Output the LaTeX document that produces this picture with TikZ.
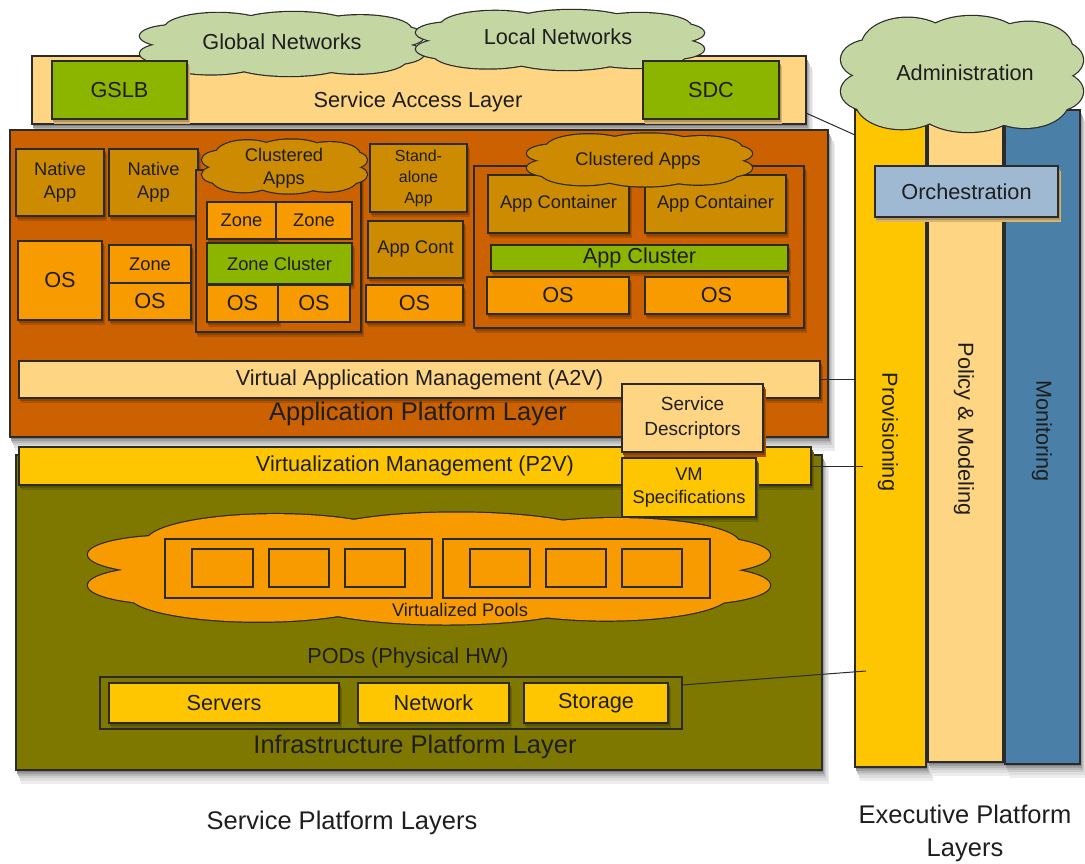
\documentclass[tikz,border=0pt]{standalone}
\usepackage{fontspec}
\setmainfont{Liberation Sans}
\usetikzlibrary{calc}

\definecolor{cloudgreen}{HTML}{C4D7A2}
\definecolor{sand}{HTML}{FDD583}
\definecolor{leaf}{HTML}{8CB500}
\definecolor{rust}{HTML}{CB6100}
\definecolor{ochre}{HTML}{CC8B00}
\definecolor{amber}{HTML}{F89B00}
\definecolor{olivebg}{HTML}{7F7800}
\definecolor{gold}{HTML}{FEC600}
\definecolor{steel}{HTML}{4A80A7}
\definecolor{haze}{HTML}{A0B9D2}
\definecolor{ink}{HTML}{1E1E1E}
\definecolor{edge}{HTML}{2B2B2B}

\newcommand\fbig{\fontsize{21.7}{25}\selectfont}
\newcommand\fmed{\fontsize{18.3}{23}\selectfont}
\newcommand\fsml{\fontsize{16}{21}\selectfont}
\newcommand\fttl{\fontsize{25.5}{33}\selectfont}

% rectangle node from its corners: name, style, x1, y1, x2, y2, text
\newcommand\putbox[7]{%
  \node[#2, minimum width={#5pt-#3pt}, minimum height={#6pt-#4pt}]
    (#1) at ({(#3+#5)/2},{(#4+#6)/2}) {#7};}

% soft grey shadow on white, from stacked shifted copies: x1, y1, x2, y2
\newcommand\softshadow[4]{%
  \foreach \dd/\cc in {14/7,11/13,8/20,6/28,4/38,2/50}
    \fill[black!\cc] ({#1+\dd/3},{#2+\dd}) rectangle ({#3+\dd/2},{#4+\dd});}
% short shadow on a coloured ground: ground colour, x1, y1, x2, y2
\newcommand\lightshadow[5]{%
  \foreach \dd/\cc in {5/85,3/70}
    \fill[#1!\cc!black] ({#2+\dd/3},{#3+\dd}) rectangle ({#4+\dd/2},{#5+\dd});}
% boxes with a shadow underneath
\newcommand\shadebox[7]{\softshadow{#3}{#4}{#5}{#6}\putbox{#1}{#2}{#3}{#4}{#5}{#6}{#7}}
\newcommand\liftbox[8]{\lightshadow{#1}{#4}{#5}{#6}{#7}\putbox{#2}{#3}{#4}{#5}{#6}{#7}{#8}}

% puffy cloud: centre x, centre y, width, height, fill colour
% (outline every puff thickly, then fill them all: only the outer rim stays)
\newcommand\puffs{0/0/0.75/0.6, -0.45/-0.47/0.38/0.5, 0.08/-0.56/0.42/0.44,
  0.55/-0.45/0.36/0.45, -0.5/0.47/0.38/0.48, 0.05/0.56/0.42/0.44,
  0.52/0.47/0.36/0.46, -0.75/-0.25/0.25/0.34, -0.75/0.3/0.25/0.34,
  0.76/-0.24/0.24/0.34, 0.76/0.3/0.24/0.34}
\newcommand\puffcloud[5]{%
  \begin{scope}[shift={(#1,#2)}, xscale=#3/2, yscale=#4/2]
    \foreach \px/\py/\rx/\ry in \puffs
      \draw[edge, line width=2.4pt] (\px,\py) ellipse [x radius=\rx, y radius=\ry];
    \foreach \px/\py/\rx/\ry in \puffs
      \fill[#5] (\px,\py) ellipse [x radius=\rx, y radius=\ry];
  \end{scope}}

\tikzset{
  blk/.style={draw=edge, line width=1.2pt, inner sep=0pt, outer sep=0pt,
              text=ink, align=center},
  lbl/.style={text=ink, inner sep=0pt, align=center},
  wire/.style={draw=edge, line width=1pt},
}

\begin{document}
\begin{tikzpicture}[x=1pt, y=-1pt]
\useasboundingbox (0,0) rectangle (1085,863);

% ---------- executive platform columns ----------
\shadebox{prov}{blk,fill=gold}{855}{110}{926}{767}{}
\shadebox{pol}{blk,fill=sand}{928}{110}{1003}{762}{}
\shadebox{mon}{blk,fill=steel}{1005}{110}{1080}{764}{}
\node[lbl, rotate=-90, font=\fbig] (provtxt) at (888,432) {Provisioning};
\node[lbl, rotate=-90, font=\fbig] (poltxt) at (964,429) {Policy \& Modeling};
\node[lbl, rotate=-90, font=\fbig] (montxt) at (1042,431) {Monitoring};
\liftbox{sand}{orch}{blk,fill=haze,font=\fbig}{875}{166}{1058}{217}{Orchestration}
\puffcloud{962}{74}{242}{116}{cloudgreen}
\node[lbl, font=\fbig] (admin) at (965,73) {Administration};

% ---------- service access layer ----------
\shadebox{sal}{blk,fill=sand}{32}{56}{806}{124}{}
\puffcloud{282}{44}{284}{64}{cloudgreen}
\node[lbl, font=\fbig] (glob) at (282,42) {Global Networks};
\puffcloud{560}{40}{288}{60}{cloudgreen}
\node[lbl, font=\fbig] (loc) at (558,37) {Local Networks};
\liftbox{sand}{gslb}{blk,fill=leaf,font=\fbig}{52}{61}{187}{119}{GSLB}
\liftbox{sand}{sdc}{blk,fill=leaf,font=\fbig}{643}{61}{779}{119}{SDC}
\node[lbl, font=\fbig] (saltxt) at (418,102) {Service Access Layer};

% ---------- application platform layer ----------
\shadebox{apl}{blk,fill=rust}{10}{130}{828}{437}{}
\liftbox{rust}{na1}{blk,fill=ochre,font=\fmed}{16}{149}{104}{216}{Native\\App}
\liftbox{rust}{na2}{blk,fill=ochre,font=\fmed}{109}{149}{198}{216}{Native\\App}
\liftbox{rust}{osa}{blk,fill=amber,font=\fbig}{18}{241}{102}{320}{OS}
\liftbox{rust}{zna}{blk,fill=amber,font=\fmed}{109}{245}{191}{283}{Zone}
\liftbox{rust}{osb}{blk,fill=amber,font=\fbig}{109}{283}{191}{320}{OS}

% zone cluster group
\liftbox{rust}{grpl}{blk,fill=rust}{196}{170}{361}{332}{}
\puffcloud{284.5}{166.5}{165}{54}{ochre}
\node[lbl, font=\fmed] (capl) at (284,168) {Clustered\\Apps};
\liftbox{rust}{znb}{blk,fill=amber,font=\fmed}{207}{202}{276}{239}{Zone}
\putbox{znc}{blk,fill=amber,font=\fmed}{276}{202}{352}{239}{Zone}
\liftbox{rust}{zcl}{blk,fill=leaf,font=\fmed}{207}{243}{352}{284}{Zone Cluster}
\liftbox{rust}{osc}{blk,fill=amber,font=\fbig}{207}{285}{278}{322}{OS}
\putbox{osd}{blk,fill=amber,font=\fbig}{278}{285}{350}{322}{OS}

% stand-alone stack
\liftbox{rust}{sa}{blk,fill=ochre,font=\fsml}{370}{144}{467}{212}{Stand-\\alone\\App}
\liftbox{rust}{acn}{blk,fill=ochre,font=\fmed}{368}{221}{463}{278}{App Cont}
\liftbox{rust}{ose}{blk,fill=amber,font=\fbig}{366}{285}{463}{322}{OS}

% app cluster group
\liftbox{rust}{grpr}{blk,fill=rust}{474}{166}{804}{328}{}
\liftbox{rust}{ac1}{blk,fill=ochre,font=\fmed}{488}{175}{629}{233}{App Container}
\liftbox{rust}{ac2}{blk,fill=ochre,font=\fmed}{645}{175}{786}{233}{App Container}
\puffcloud{639.5}{160}{225}{53}{ochre}
\node[lbl, font=\fmed] (capr) at (638,161) {Clustered Apps};
\liftbox{rust}{acl}{blk,fill=leaf,font=\fbig}{491}{245}{788}{271}{App Cluster}
\liftbox{rust}{osf}{blk,fill=amber,font=\fbig}{487}{277}{629}{314}{OS}
\liftbox{rust}{osg}{blk,fill=amber,font=\fbig}{645}{277}{788}{314}{OS}

\liftbox{rust}{a2v}{blk,fill=sand,font=\fbig}{19}{361}{820}{398}{Virtual Application Management (A2V)}
\node[lbl, font=\fttl] (apltxt) at (418,414) {Application Platform Layer};

% ---------- infrastructure platform layer ----------
\shadebox{ipl}{blk,fill=olivebg}{16}{455}{822}{770}{}
\liftbox{olivebg}{p2v}{blk,fill=gold,font=\fbig}{19}{447}{811}{485}{Virtualization Management (P2V)}
\liftbox{rust}{sd}{blk,fill=sand,font=\fontsize{19}{25}\selectfont}{622}{384}{763}{452}{Service\\Descriptors}
\liftbox{olivebg}{vms}{blk,fill=gold,font=\fmed}{622}{458}{756}{517}{VM\\Specifications}

\puffcloud{429}{568.5}{682}{112}{amber}
\putbox{pf1}{blk,fill=amber}{165}{539}{432}{598}{}
\putbox{pf2}{blk,fill=amber}{443}{539}{710}{598}{}
\putbox{q1}{blk,fill=amber}{192}{549}{253}{587}{}
\putbox{q2}{blk,fill=amber}{269}{549}{329}{587}{}
\putbox{q3}{blk,fill=amber}{345}{549}{405}{587}{}
\putbox{q4}{blk,fill=amber}{470}{549}{530}{587}{}
\putbox{q5}{blk,fill=amber}{546}{549}{606}{587}{}
\putbox{q6}{blk,fill=amber}{622}{549}{682}{587}{}
\node[lbl, font=\fmed] (pooltxt) at (460,610) {Virtualized Pools};

\node[lbl, font=\fbig] (podtxt) at (408,658) {PODs (Physical HW)};
\putbox{pods}{blk,fill=olivebg}{100}{677}{682}{729}{}
\liftbox{olivebg}{srv}{blk,fill=gold,font=\fbig}{109}{683}{339}{723}{Servers}
\liftbox{olivebg}{net}{blk,fill=gold,font=\fbig}{358}{683}{509}{723}{Network}
\liftbox{olivebg}{sto}{blk,fill=gold,font=\fbig}{524}{683}{668}{723}{Storage}
\node[lbl, font=\fttl] (ipltxt) at (415,747) {Infrastructure Platform Layer};

% ---------- captions ----------
\node[lbl, font=\fttl] (spl) at (342,823) {Service Platform Layers};
\node[lbl, font=\fttl] (epl) at (965,833) {Executive Platform\\Layers};

% ---------- links to provisioning ----------
\draw[wire] ($(sal.south east)+(0,-11)$) -- ($(prov.north west)+(0,25)$);
\draw[wire] (a2v.east) -- (a2v.east -| prov.west);
\draw[wire] (p2v.east) -- ($(p2v.east -| prov.west)+(8,0)$);
\draw[wire] ($(pods.north east)+(0,8)$) -- ($(pods.north east -| prov.west)+(11,-6)$);
\end{tikzpicture}
\end{document}
